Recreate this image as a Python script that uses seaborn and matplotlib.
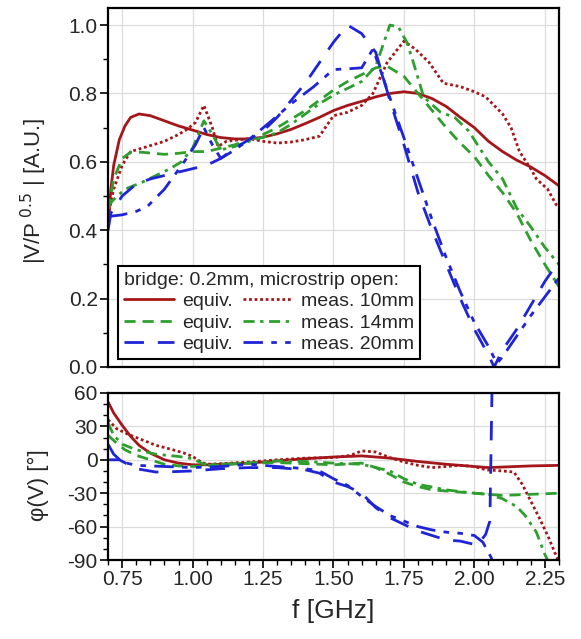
import matplotlib
matplotlib.use("Agg")
import matplotlib.pyplot as plt
import seaborn as sns
import numpy as np
from matplotlib.lines import Line2D
from matplotlib.ticker import MultipleLocator, FormatStrFormatter

# ---------------- data ----------------
# magnitude |V/P^0.5|
f_red_eq = [0.70,0.71,0.72,0.74,0.76,0.78,0.81,0.85,0.90,0.95,1.00,1.05,1.10,1.15,1.20,1.25,1.30,1.35,1.40,1.45,1.50,1.55,1.60,1.65,1.70,1.75,1.80,1.85,1.90,1.95,2.00,2.05,2.10,2.15,2.20,2.25,2.30]
m_red_eq = [0.42,0.52,0.59,0.665,0.705,0.73,0.74,0.735,0.72,0.705,0.693,0.68,0.671,0.667,0.667,0.672,0.682,0.695,0.712,0.73,0.75,0.765,0.777,0.79,0.80,0.805,0.80,0.785,0.762,0.73,0.70,0.66,0.63,0.605,0.585,0.56,0.53]

f_red_ms = [0.70,0.72,0.75,0.78,0.82,0.86,0.90,0.95,0.98,1.01,1.04,1.07,1.09,1.12,1.20,1.25,1.30,1.35,1.40,1.45,1.50,1.55,1.60,1.64,1.69,1.75,1.79,1.84,1.89,1.95,2.00,2.04,2.10,2.13,2.16,2.20,2.22,2.26,2.29,2.30]
m_red_ms = [0.44,0.52,0.59,0.63,0.64,0.65,0.66,0.68,0.695,0.715,0.765,0.70,0.645,0.66,0.668,0.66,0.655,0.658,0.665,0.675,0.735,0.745,0.765,0.80,0.89,0.953,0.93,0.89,0.83,0.82,0.805,0.79,0.74,0.70,0.63,0.58,0.55,0.52,0.475,0.47]

f_grn_eq = [0.70,0.72,0.75,0.78,0.82,0.90,0.95,1.00,1.05,1.10,1.15,1.20,1.25,1.30,1.35,1.40,1.45,1.50,1.55,1.60,1.65,1.69,1.75,1.80,1.85,1.90,1.95,2.00,2.05,2.10,2.15,2.20,2.25,2.30]
m_grn_eq = [0.46,0.55,0.61,0.628,0.628,0.622,0.625,0.63,0.63,0.64,0.65,0.665,0.68,0.70,0.725,0.75,0.78,0.81,0.835,0.855,0.875,0.88,0.85,0.80,0.75,0.70,0.655,0.615,0.56,0.51,0.45,0.37,0.30,0.235]

f_grn_ms = [0.70,0.72,0.76,0.82,0.87,0.92,0.96,1.00,1.04,1.07,1.10,1.15,1.20,1.25,1.30,1.35,1.40,1.45,1.50,1.55,1.60,1.65,1.70,1.73,1.76,1.78,1.82,1.88,1.93,1.98,2.05,2.10,2.15,2.20,2.25,2.30]
m_grn_ms = [0.47,0.49,0.52,0.54,0.56,0.58,0.60,0.64,0.72,0.68,0.635,0.645,0.66,0.672,0.685,0.71,0.74,0.77,0.795,0.815,0.835,0.88,1.0,0.995,0.95,0.90,0.79,0.745,0.73,0.69,0.60,0.55,0.465,0.41,0.35,0.30]

f_blu_eq = [0.70,0.71,0.75,0.80,0.85,0.90,0.95,1.00,1.05,1.10,1.15,1.20,1.25,1.30,1.35,1.40,1.45,1.50,1.55,1.60,1.65,1.70,1.75,1.80,1.85,1.90,1.95,2.00,2.05,2.07,2.10,2.15,2.20,2.25,2.30]
m_blu_eq = [0.40,0.45,0.50,0.535,0.55,0.56,0.57,0.58,0.59,0.61,0.64,0.665,0.69,0.73,0.78,0.83,0.89,0.95,1.0,0.975,0.92,0.78,0.65,0.51,0.40,0.30,0.20,0.11,0.035,0.0,0.05,0.11,0.18,0.25,0.31]

f_blu_ms = [0.70,0.75,0.80,0.84,0.90,0.97,1.01,1.04,1.07,1.10,1.15,1.20,1.28,1.35,1.43,1.50,1.55,1.60,1.64,1.67,1.72,1.75,1.80,1.85,1.90,1.95,2.00,2.05,2.08,2.10,2.20,2.30]
m_blu_ms = [0.44,0.445,0.455,0.47,0.52,0.60,0.65,0.70,0.65,0.61,0.635,0.665,0.72,0.77,0.82,0.87,0.872,0.875,0.93,0.86,0.74,0.67,0.55,0.43,0.32,0.22,0.13,0.06,0.01,0.03,0.15,0.26]

# phase phi(V)
fp_red_eq = [0.70,0.72,0.75,0.78,0.81,0.85,0.90,0.95,1.00,1.05,1.10,1.20,1.30,1.40,1.50,1.60,1.70,1.80,1.90,2.00,2.05,2.10,2.20,2.30]
p_red_eq = [52,42,31,21,13,6,0,-3,-4.5,-4.5,-4,-3,-1,1,2.5,3.5,1.5,-1.5,-4,-6,-7,-6.5,-5.5,-5]

fp_red_ms = [0.70,0.73,0.77,0.82,0.87,0.93,0.97,1.00,1.03,1.05,1.10,1.20,1.30,1.40,1.50,1.56,1.60,1.65,1.70,1.75,1.80,1.85,1.90,1.95,2.00,2.04,2.10,2.14,2.17,2.20,2.23,2.26,2.30]
p_red_ms = [36,28,23,18,13,9,6,3,-2,-4,-3.5,-2,0,1.5,2,4,8,7,2,-2,-5,-7,-6,-5,-6,-9,-10,-11,-22,-37,-52,-68,-92]

fp_grn_eq = [0.70,0.73,0.76,0.80,0.85,0.90,0.95,1.00,1.10,1.20,1.30,1.40,1.50,1.60,1.65,1.70,1.75,1.80,1.85,1.90,2.00,2.10,2.20,2.30]
p_grn_eq = [22,15,9,4,0,-4,-5.5,-6,-4.5,-3,-2.5,-3.5,-4.5,-3,-7,-13,-20,-24,-27,-28,-30,-32,-31,-30]

fp_grn_ms = [0.70,0.72,0.75,0.80,0.87,0.95,1.00,1.04,1.10,1.20,1.30,1.40,1.50,1.60,1.70,1.75,1.80,1.90,2.00,2.05,2.10,2.15,2.18,2.22,2.25,2.27]
p_grn_ms = [33,22,14,9,5,3,1,-4,-4,-3,-1,-1.5,-3,-4,-10,-17,-22,-27,-30,-31,-35,-42,-50,-65,-85,-95]

fp_blu_eq = [0.70,0.74,0.77,0.80,0.87,0.95,1.00,1.10,1.20,1.30,1.40,1.45,1.50,1.55,1.60,1.65,1.70,1.75,1.80,1.85,1.90,1.95,2.00,2.01,2.04,2.055,2.07]
p_blu_eq = [0,0,-4,-8,-11,-10.5,-10,-8,-7,-7,-9,-12,-20,-24,-30,-43,-52,-58,-64,-68,-72,-73,-76,-77,-67,-55,180]

fp_blu_ms = [0.70,0.72,0.75,0.80,0.90,1.00,1.10,1.20,1.30,1.40,1.45,1.50,1.55,1.60,1.65,1.70,1.80,1.85,1.90,1.95,2.00,2.03,2.06,2.08]
p_blu_ms = [14,5,-2,-5,-6,-7,-6,-4,-6,-8,-10,-17,-23,-33,-42,-50,-60,-63,-65,-66,-68,-74,-88,-110]

legend_title = "bridge: 0.2mm, microstrip open:"
labels_eq = ["equiv.", "equiv.", "equiv."]
labels_ms = ["meas. 10mm", "meas. 14mm", "meas. 20mm"]

# ---------------- styles ----------------
RED = "#a3171b"
GRN = "#2e9e2e"
BLU = "#1f24d6"
ls_red_eq = "-"
ls_red_ms = (0, (1, 1))
ls_grn_eq = (0, (4, 2.5))
ls_grn_ms = (0, (4, 2, 1.2, 2))
ls_blu_eq = (0, (7, 5))
ls_blu_ms = (0, (7, 3, 2, 3, 2, 3))

sns.set_theme(style="whitegrid")
plt.rcParams['font.family'] = ['Liberation Sans', 'DejaVu Sans']
plt.rcParams['axes.unicode_minus'] = False

fig = plt.figure(figsize=(5.81, 6.39), dpi=100)
ax1 = fig.add_axes([0.186, 0.4257, 0.776, 0.5618])
ax2 = fig.add_axes([0.186, 0.1236, 0.776, 0.2614], sharex=ax1)

lw = 2.0
series_top = [
    (f_red_eq, m_red_eq, RED, ls_red_eq),
    (f_red_ms, m_red_ms, RED, ls_red_ms),
    (f_grn_eq, m_grn_eq, GRN, ls_grn_eq),
    (f_grn_ms, m_grn_ms, GRN, ls_grn_ms),
    (f_blu_eq, m_blu_eq, BLU, ls_blu_eq),
    (f_blu_ms, m_blu_ms, BLU, ls_blu_ms),
]
series_bot = [
    (fp_red_eq, p_red_eq, RED, ls_red_eq),
    (fp_red_ms, p_red_ms, RED, ls_red_ms),
    (fp_grn_eq, p_grn_eq, GRN, ls_grn_eq),
    (fp_grn_ms, p_grn_ms, GRN, ls_grn_ms),
    (fp_blu_eq, p_blu_eq, BLU, ls_blu_eq),
    (fp_blu_ms, p_blu_ms, BLU, ls_blu_ms),
]
for x, y, c, ls in series_top:
    sns.lineplot(x=x, y=y, ax=ax1, color=c, linestyle=ls, lw=lw, sort=False, estimator=None)
for x, y, c, ls in series_bot:
    sns.lineplot(x=x, y=y, ax=ax2, color=c, linestyle=ls, lw=lw, sort=False, estimator=None)

for ax in (ax1, ax2):
    ax.set_facecolor("white")
    ax.grid(True, which="major", color="#dcdcdc", lw=0.9)
    for s in ax.spines.values():
        s.set_color("black")
        s.set_linewidth(1.6)
    ax.tick_params(which="major", direction="out", length=6, width=1.2, color="black",
                   labelsize=15, left=True, bottom=True, pad=1.5)
    ax.tick_params(which="minor", direction="out", length=3.5, width=1.0, color="black",
                   left=True, bottom=True)

ax1.set_xlim(0.70, 2.30)
ax1.set_ylim(0.0, 1.05)
ax1.yaxis.set_major_locator(MultipleLocator(0.2))
ax1.yaxis.set_minor_locator(MultipleLocator(0.1))
ax1.yaxis.set_major_formatter(FormatStrFormatter("%.1f"))
ax1.tick_params(axis="x", which="both", bottom=False, labelbottom=False)
ax1.set_ylabel("|V/P$^{\\ 0.5}$ | [A.U.]", fontsize=16)

ax2.set_ylim(-90, 60)
ax2.yaxis.set_major_locator(MultipleLocator(30))
ax2.yaxis.set_minor_locator(MultipleLocator(10))
ax2.xaxis.set_major_locator(MultipleLocator(0.25))
ax2.xaxis.set_minor_locator(MultipleLocator(0.05))
ax2.xaxis.set_major_formatter(FormatStrFormatter("%.2f"))
ax2.set_ylabel("φ(V) [°]", fontsize=16)
ax2.set_xlabel("f [GHz]", fontsize=19, labelpad=7)
ax1.set_xlim(0.70, 2.30)

ax1.yaxis.set_label_coords(-0.13, 0.49)
ax2.yaxis.set_label_coords(-0.13, 0.45)

handles = []
for x, y, c, ls in [series_top[0], series_top[2], series_top[4], series_top[1], series_top[3], series_top[5]]:
    handles.append(Line2D([], [], color=c, linestyle=ls, lw=lw))
labels = labels_eq + labels_ms
leg = ax1.legend(handles, labels, ncol=2, title=legend_title, loc="lower left",
                 bbox_to_anchor=(0.022, 0.022), fontsize=14, title_fontsize=14,
                 alignment="left", fancybox=False, framealpha=1, edgecolor="black",
                 handlelength=2.6, handletextpad=0.4, columnspacing=0.5,
                 labelspacing=0.2, borderpad=0.3, borderaxespad=0)
leg.get_frame().set_linewidth(1.5)

fig.savefig("out.png", dpi=100)
